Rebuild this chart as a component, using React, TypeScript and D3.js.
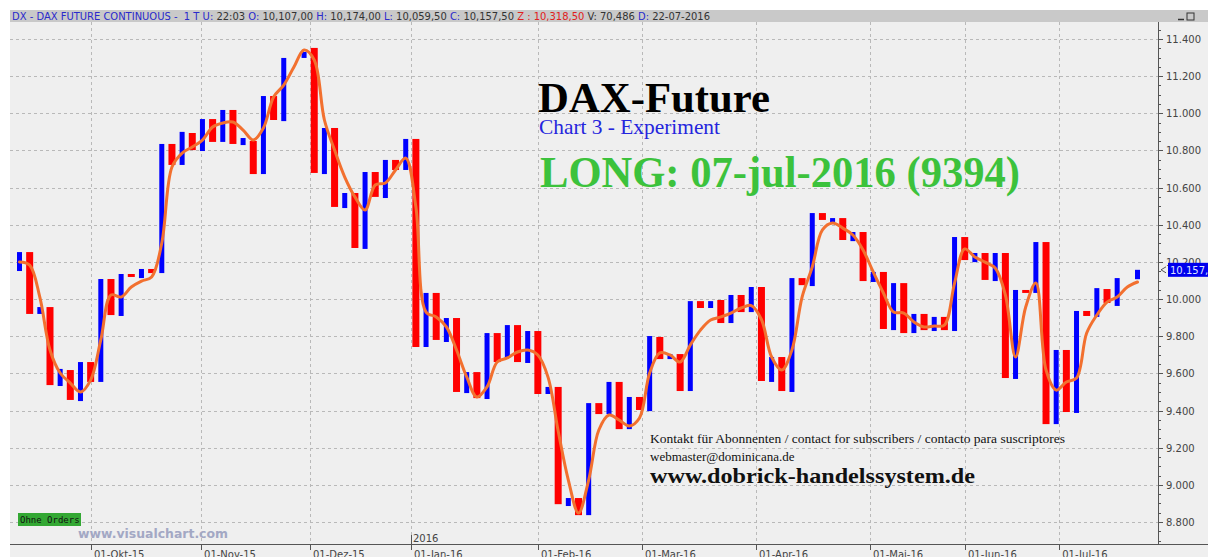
import React from 'react';
import * as d3 from 'd3';

// ---- data (2-day bars, slot index 0..110) ----
const barOpen: (number | null)[] = [
  10151, 10253, 9920, 9957, 9532, 9618, 9451, 9661, 9554, 10108,
  9909, 10135, 10113, 10162, 10140, 10835, 10722, 10894, 10797, 10969,
  10846, 11018, 10829, 10851, 10673, 11093, 10958, null, 11298, 11352,
  10673, 10921, 10490, 10571, 10270, 10684, 10544, 10749, 10695, 10862,
  9742, 10033, 9769, 9898, 9494, 9607, 9462, 9817, 9683, 9860,
  9656, 9828, 9489, 9527, 8886, 8929, 8837, 9440, 9381, 9554,
  9300, 9473, 9397, 9796, 9677, 9704, 9505, 9989, 9952, 9995,
  9871, 10022, 9930, 10065, 9554, 9688, 9500, 10113, 10070, 10463,
  10415, 10436, 10312, 10361, 10092, 10146, 9833, 10086, 9817, 9920,
  9828, 9904, 9828, 10334, 10199, 10248, 10097, 10248, 9570, 10049,
  10033, 10307, 9327, 9726, 9387, 9936, 9904, 10054, 9963, null,
  10107,
];
const barClose: (number | null)[] = [
  10253, 9920, 9957, 9537, 9624, 9457, 9661, 9554, 10108, 9914,
  10135, 10119, 10162, 10140, 10835, 10722, 10900, 10802, 10969, 10846,
  11018, 10835, 10867, 10673, 11093, 10964, 11298, null, 11330, 10679,
  10921, 10496, 10571, 10275, 10684, 10550, 10749, 10695, 10862, 9742,
  10033, 9780, 9898, 9500, 9607, 9467, 9817, 9661, 9860, 9661,
  9828, 9489, 9527, 8896, 8929, 8837, 9440, 9381, 9554, 9300,
  9473, 9403, 9801, 9677, 9704, 9505, 9989, 9952, 9989, 9871,
  10022, 9930, 10065, 9559, 9688, 9505, 10113, 10075, 10463, 10426,
  10436, 10318, 10361, 10097, 10146, 9839, 10086, 9817, 9920, 9833,
  9904, 9833, 10334, 10210, 10248, 10103, 10248, 9575, 10049, 10033,
  10307, 9327, 9726, 9392, 9936, 9909, 10059, 9979, 10113, null,
  10157.5,
];
const lineValues: number[] = [
  10200, 10183, 10010, 9726, 9602, 9548, 9500, 9564, 9780, 10022,
  10011, 10065, 10097, 10119, 10302, 10711, 10786, 10819, 10856, 10926,
  10948, 10953, 10910, 10856, 10921, 11088, 11152, 11249, 11341, 11287,
  10964, 10802, 10657, 10550, 10479, 10614, 10625, 10695, 10759, 10496,
  9930, 9904, 9850, 9726, 9581, 9473, 9527, 9661, 9683, 9715,
  9726, 9699, 9580, 9290, 9026, 8848, 9026, 9295, 9376, 9349,
  9317, 9360, 9602, 9710, 9699, 9661, 9753, 9833, 9887, 9904,
  9925, 9952, 9965, 9890, 9688, 9618, 9726, 10011, 10173, 10372,
  10409, 10382, 10345, 10264, 10146, 10033, 9930, 9925, 9877, 9850,
  9855, 9860, 10086, 10270, 10226, 10199, 10167, 10022, 9688, 9957,
  10086, 9618, 9510, 9554, 9575, 9817, 9914, 9984, 10011, 10065,
  10092,
];
const priceTicks = [8800, 9000, 9200, 9400, 9600, 9800, 10000, 10200, 10400, 10600, 10800, 11000, 11200, 11400];
const monthLabels = ['01-Okt-15', '01-Nov-15', '01-Dez-15', '01-Jan-16', '01-Feb-16', '01-Mar-16', '01-Apr-16', '01-Mai-16', '01-Jun-16', '01-Jul-16'];
const monthSlots = [7.03, 17.86, 28.58, 38.52, 51.01, 61.24, 72.46, 83.68, 93.02, 102.3];
const yearLabel = '2016';
const lastPriceLabel = '10.157,5';
const lastPrice = 10157.5;

const headerParts: [string, string][] = [
  ['DX - DAX FUTURE CONTINUOUS -  1 T U: ', '#2a2acc'],
  ['22:03 ', '#333'],
  ['O: ', '#2a2acc'],
  ['10,107,00 ', '#333'],
  ['H: ', '#2a2acc'],
  ['10,174,00 ', '#333'],
  ['L: ', '#2a2acc'],
  ['10,059,50 ', '#333'],
  ['C: ', '#2a2acc'],
  ['10,157,50 ', '#333'],
  ['Z : 10,318,50 ', '#e02020'],
  ['V: 70,486 ', '#333'],
  ['D: ', '#2a2acc'],
  ['22-07-2016', '#333'],
];

const fmtPrice = (v: number) => `${Math.floor(v / 1000)}.${String(v % 1000).padStart(3, '0')}`;

export default function App() {
  const W = 1208, H = 557;
  const plotL = 10, plotR = 1158, plotT = 22, plotB = 544;
  const x = d3.scaleLinear().domain([0, 110]).range([19.5, 1137.5]);
  const y = d3.scaleLinear().domain([8800, 11400]).range([522, 39]);

  const minorTicks = d3.range(8700, 11500, 50).filter((v) => y(v) > plotT + 2 && y(v) < plotB - 2);

  const line = d3
    .line<number>()
    .x((_, i) => x(i))
    .y((d) => y(d))
    .curve(d3.curveCatmullRom.alpha(0.5));

  const grid = '#b9b9b9';

  return (
    <svg width={W} height={H} style={{ position: 'absolute', left: 0, top: 0, background: '#fff' }}>
      <rect x={0} y={0} width={W} height={H} fill="#ffffff" />
      <rect x={plotL} y={plotT} width={W - plotL} height={H - plotT} fill="#efefef" />
      {/* header */}
      <rect x={plotL} y={10} width={W - plotL} height={12} fill="#c9c9c9" />
      <text x={12} y={20} fontFamily="DejaVu Sans" fontSize={10} textLength={698} lengthAdjust="spacingAndGlyphs">
        {headerParts.map(([t, c], i) => (
          <tspan key={i} fill={c} xmlSpace="preserve">{t}</tspan>
        ))}
      </text>
      <rect x={1187} y={13} width={7} height={7} fill="none" stroke="#333" strokeWidth={1} />
      <line x1={1178} y1={19.5} x2={1184} y2={19.5} stroke="#333" strokeWidth={1.5} />

      {/* grid */}
      {priceTicks.map((v) => (
        <line key={'h' + v} x1={plotL} x2={plotR} y1={Math.round(y(v)) + 0.5} y2={Math.round(y(v)) + 0.5}
          stroke={grid} strokeDasharray="3,3" />
      ))}
      {monthSlots.map((s, i) => (
        <line key={'v' + i} x1={Math.round(x(s)) + 0.5} x2={Math.round(x(s)) + 0.5} y1={plotT} y2={plotB}
          stroke={grid} strokeDasharray="3,3" />
      ))}

      {/* bars */}
      {barOpen.map((o, i) => {
        const c = barClose[i];
        if (o == null || c == null) return null;
        const up = c >= o;
        const w = up ? 5 : 7;
        const top = y(Math.max(o, c));
        const h = Math.max(y(Math.min(o, c)) - top, 2.5);
        return <rect key={'b' + i} x={x(i) - w / 2} y={top} width={w} height={h} fill={up ? '#0000ff' : '#ff0000'} />;
      })}

      {/* moving line */}
      <path d={line(lineValues) || ''} fill="none" stroke="#f2702f" strokeWidth={3} strokeLinejoin="round" strokeLinecap="round" />

      {/* right axis */}
      <line x1={plotR + 0.5} x2={plotR + 0.5} y1={plotT} y2={plotB} stroke="#555" />
      {minorTicks.map((v) => (
        <line key={'m' + v} x1={plotR} x2={plotR + (v % 200 === 0 ? 5 : 3)} y1={Math.round(y(v)) + 0.5} y2={Math.round(y(v)) + 0.5} stroke="#555" />
      ))}
      {priceTicks.map((v) => (
        <text key={'t' + v} x={1166} y={y(v) + 4} fontFamily="DejaVu Sans" fontSize={10} fill="#444">{fmtPrice(v)}</text>
      ))}
      {/* last price tag */}
      <path d={`M${plotR + 8},${y(lastPrice) - 3} L${plotR + 3},${y(lastPrice)} L${plotR + 8},${y(lastPrice) + 3}`} fill="none" stroke="#555" />
      <rect x={1168} y={y(lastPrice) - 7} width={40} height={14} fill="#0000ee" />
      <text x={1170} y={y(lastPrice) + 4} fontFamily="DejaVu Sans" fontSize={10} fill="#dfe6ff">{lastPriceLabel}</text>

      {/* bottom axis */}
      <line x1={plotL} x2={W} y1={plotB + 0.5} y2={plotB + 0.5} stroke="#555" />
      {monthSlots.map((s, i) => (
        <g key={'ml' + i}>
          <line x1={Math.round(x(s)) + 0.5} x2={Math.round(x(s)) + 0.5} y1={plotB} y2={plotB + 6} stroke="#555" />
          <text x={x(s) + 3} y={plotB + 14} fontFamily="DejaVu Sans" fontSize={10} fill="#444">{monthLabels[i]}</text>
        </g>
      ))}
      <line x1={Math.round(x(monthSlots[3])) + 0.5} x2={Math.round(x(monthSlots[3])) + 0.5} y1={plotB - 9} y2={plotB} stroke="#555" />
      <text x={x(monthSlots[3]) + 2} y={plotB - 2} fontFamily="DejaVu Sans" fontSize={10} fill="#444">{yearLabel}</text>

      {/* badges */}
      <rect x={18} y={513} width={63} height={13} fill="#33a833" />
      <text x={20} y={523} fontFamily="DejaVu Sans Mono" fontSize={9} fill="#111">Ohne Orders</text>
      <text x={78} y={538} fontFamily="DejaVu Sans" fontWeight="bold" fontSize={12} fill="#a3a8c4" textLength={150} lengthAdjust="spacingAndGlyphs">www.visualchart.com</text>

      {/* annotations */}
      <text x={538} y={112} fontFamily="Liberation Serif" fontWeight="bold" fontSize={43} fill="#000" textLength={232} lengthAdjust="spacingAndGlyphs">DAX-Future</text>
      <text x={539} y={134} fontFamily="Liberation Serif" fontSize={21} fill="#2525dd" textLength={181} lengthAdjust="spacingAndGlyphs">Chart 3 - Experiment</text>
      <text x={540} y={187} fontFamily="Liberation Serif" fontWeight="bold" fontSize={44} fill="#3cc23c" textLength={480} lengthAdjust="spacingAndGlyphs">LONG: 07-jul-2016 (9394)</text>
      <text x={650} y={443} fontFamily="Liberation Serif" fontSize={13} fill="#111" textLength={415} lengthAdjust="spacingAndGlyphs">Kontakt für Abonnenten / contact for subscribers / contacto para suscriptores</text>
      <text x={650} y={461} fontFamily="Liberation Serif" fontSize={13} fill="#111">webmaster@dominicana.de</text>
      <text x={650} y={483} fontFamily="Liberation Serif" fontWeight="bold" fontSize={22} fill="#111" textLength={325} lengthAdjust="spacingAndGlyphs">www.dobrick-handelssystem.de</text>
    </svg>
  );
}
